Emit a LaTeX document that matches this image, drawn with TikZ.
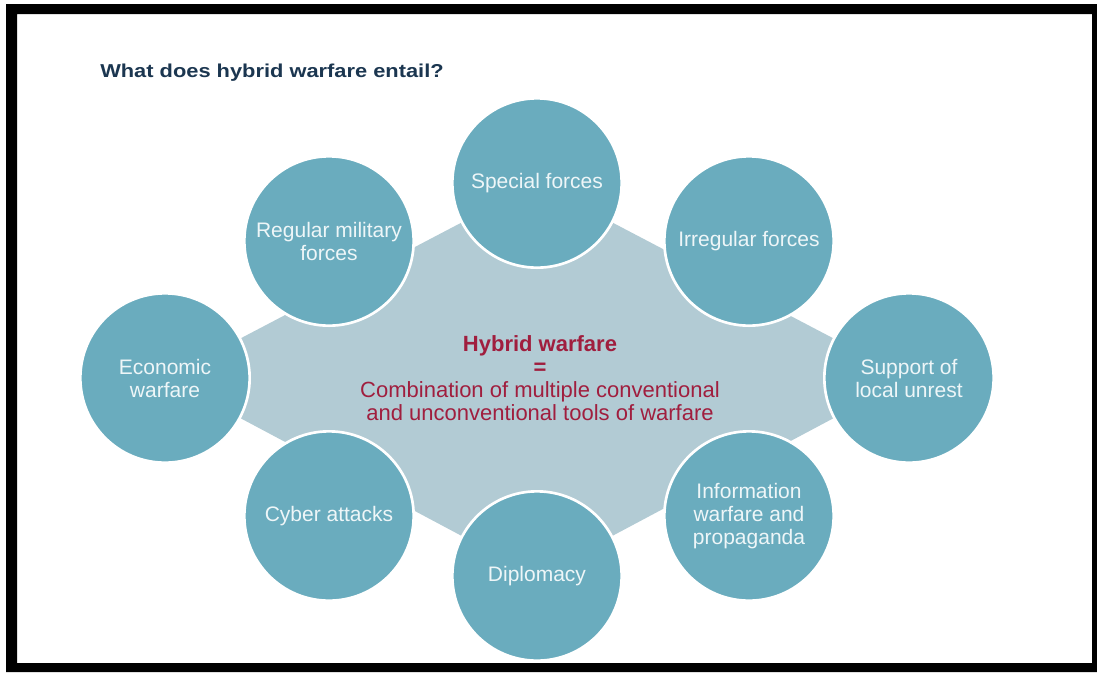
\documentclass[tikz,border=0pt]{standalone}
\usepackage{fontspec}
\setmainfont{Liberation Sans}
\usepackage{graphicx}
\usetikzlibrary{backgrounds}
\definecolor{circteal}{HTML}{6AACBE}
\definecolor{hubgray}{HTML}{B2CBD4}
\definecolor{topictext}{HTML}{EEF6F8}
\definecolor{titlenavy}{HTML}{1B3650}
\definecolor{hubred}{HTML}{A01E3E}
\begin{document}
\begin{tikzpicture}[x=0.75pt,y=-0.75pt,
  topic/.style={circle,fill=circteal,draw=white,line width=2pt,minimum size=127pt,inner sep=0pt,align=center,text=topictext,font=\fontsize{15.75}{17.25}\selectfont},
  hub/.style={fill=hubgray}]
\useasboundingbox (0,0) rectangle (1097,672);
\node[anchor=base west,inner sep=0pt,text=titlenavy,font=\bfseries\fontsize{14}{16}\selectfont] (title) at (100,77) {\scalebox{1.17}[1]{What does hybrid warfare entail?}};
\node[topic] (special) at (537,183) {Special forces};
\node[topic] (regular) at (329,241) {Regular military\\forces};
\node[topic] (irregular) at (749,241) {Irregular forces};
\node[topic] (economic) at (165,378) {Economic\\warfare};
\node[topic] (support) at (909,378) {Support of\\local unrest};
\node[topic] (cyber) at (329,516) {Cyber attacks};
\node[topic] (information) at (749,516) {Information\\warfare and\\propaganda};
\node[topic] (diplomacy) at (537,576) {Diplomacy};
\node[align=center,text=hubred,font=\fontsize{16.5}{17.25}\selectfont] (hybrid) at (540,378) {\textbf{Hybrid warfare}\\\textbf{=}\\Combination of multiple conventional\\and unconventional tools of warfare};
\begin{scope}[on background layer]
\fill[white] (0,0) rectangle (1097,672);
\fill[hub] (economic.center) -- (special.center) -- (support.center) -- (diplomacy.center) -- cycle;
\end{scope}
\fill[black,even odd rule] (6,4) rectangle (1097,672) (17,14) rectangle (1092,663);
\end{tikzpicture}
\end{document}
